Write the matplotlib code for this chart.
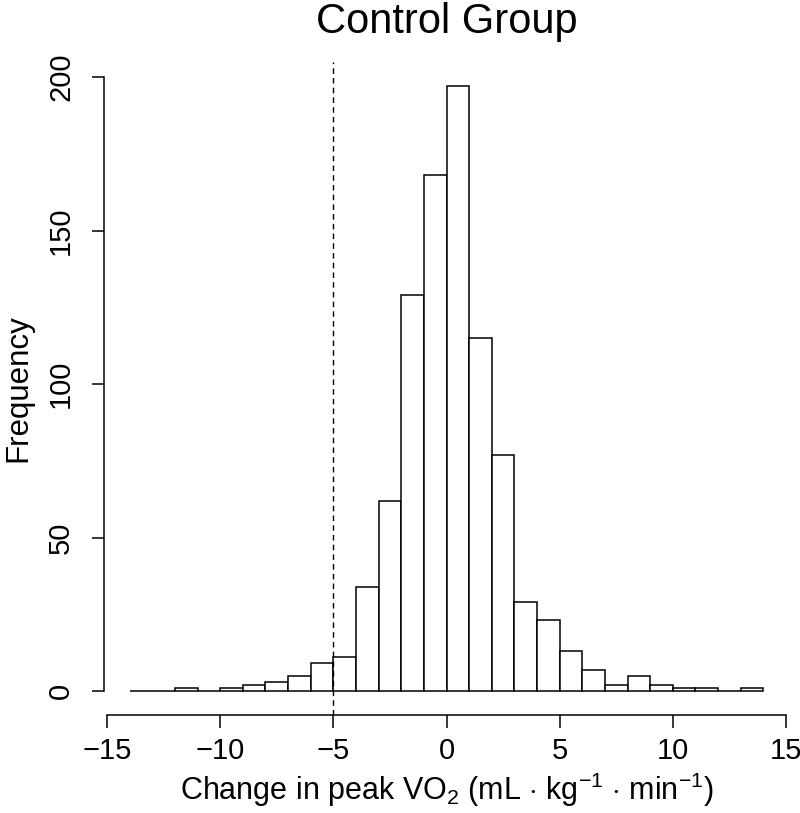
import numpy as np
import matplotlib
matplotlib.use("Agg")
import matplotlib.pyplot as plt

plt.rcParams['font.family'] = ['Liberation Sans', 'DejaVu Sans']
plt.rcParams['mathtext.fontset'] = 'custom'
plt.rcParams['mathtext.rm'] = 'Liberation Sans'
plt.rcParams['mathtext.it'] = 'Liberation Sans:italic'

# histogram bins (width 1) and counts
bin_edges = list(range(-14, 15))
counts = [0, 0, 1, 0, 1, 2, 3, 5, 9, 11, 34, 62, 129, 168,
          197, 115, 77, 29, 23, 13, 7, 2, 5, 2, 1, 1, 0, 1]
cutoff = -5
x_ticks = [-15, -10, -5, 0, 5, 10, 15]
y_ticks = [0, 50, 100, 150, 200]

fig = plt.figure(figsize=(8, 8.13), dpi=100)
ax = fig.add_axes([0.1304, 0.1203, 0.8555, 0.8034])

ax.bar(bin_edges[:-1], counts, width=1, align='edge', color='white',
       edgecolor='black', linewidth=1.1)
ax.axvline(cutoff, color='black', linestyle=(0, (4, 3)), linewidth=1.0)

ax.set_xlim(-15.12, 15.12)
ax.set_ylim(-7.88, 204.88)
for s in ['top', 'right']:
    ax.spines[s].set_visible(False)
ax.spines['left'].set_bounds(0, 200)
ax.spines['bottom'].set_bounds(-15, 15)
ax.spines['left'].set_linewidth(1.1)
ax.spines['bottom'].set_linewidth(1.1)

ax.set_xticks(x_ticks)
ax.set_xticklabels([str(t).replace('-', '\u2212') for t in x_ticks])
ax.set_yticks(y_ticks)
ax.set_yticklabels([str(t) for t in y_ticks], rotation=90, va='center')
ax.tick_params(length=9, width=1.1, labelsize=21)
ax.tick_params(axis='x', pad=7)
ax.tick_params(axis='y', pad=12)

ax.set_xlabel('Change in peak VO$_2$ (mL $\\cdot$ kg$^{-1}$ $\\cdot$ min$^{-1}$)',
              fontsize=22, labelpad=4)
ax.set_ylabel('Frequency', fontsize=22.5, labelpad=10)
ax.set_title('Control Group', fontsize=30, pad=21)

fig.savefig('out.png', dpi=100)
